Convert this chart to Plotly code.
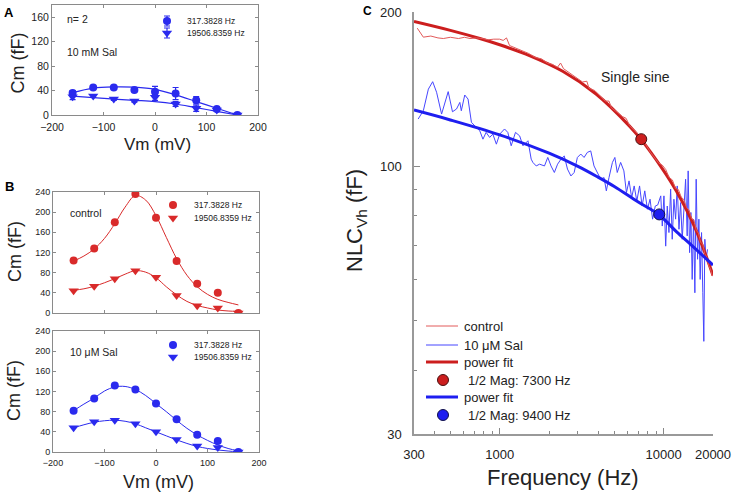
import plotly.graph_objects as go

W, H = 736, 493

# ---------------- Panel A data ----------------
vm = [-160, -120, -80, -40, 0, 40, 80, 120, 160]
a_low = [36, 45, 45, 41, 38, 35, 24, 10, 0]
a_low_err = [4, 2, 2, 2, 9, 10, 6, 2, 1]
a_high = [30, 31, 26, 23, 29, 18, 11, 8, 0]
a_high_err = [5, 2, 2, 2, 5, 4, 5, 2, 1]
a_fit_low = [36.5, 44, 46, 45.5, 42, 33, 22, 11, 0]
a_fit_high = [31, 28.5, 26, 24, 22, 18, 12, 6, 0]

# ---------------- Panel B data ----------------
vm_fit = [-160, -140, -120, -100, -80, -60, -40, -20, 0, 20, 40, 60, 80, 100, 120, 140, 160]
ctl_low = [104, 128, 180, 236, 189, 103, 58, 40, 0]
ctl_high = [44, 53, 68, 84, 71, 34.5, 14.6, 10, 0]
ctl_fit_low = [103, 113, 127, 148, 177, 210, 233, 224, 193, 150, 108, 75, 52, 37, 27, 21, 16]
ctl_fit_high = [45, 48, 53, 60, 68, 77, 84, 81, 70, 52, 36, 23, 15, 10, 6, 4, 3]
sal_low = [82, 106, 132, 124, 96, 65, 34, 22, 0]
sal_high = [48, 60, 63, 56, 40, 25, 12, 9, 0]
sal_fit_low = [82, 95, 107, 121, 129, 130, 124, 112, 96, 80, 63, 47, 34, 23, 14, 7, 2]
sal_fit_high = [48, 54, 59, 62, 63, 61, 56, 48, 40, 32, 24, 17, 11, 7, 4, 2, 0]

legend_freqs = ["317.3828 Hz", "19506.8359 Hz"]

# ---------------- Panel C data ----------------
ctl_freq = [314, 342, 380, 420, 453, 500, 560, 610, 659, 720, 780, 850, 920, 999, 1050,
            1100, 1148, 1200, 1280, 1388, 1500, 1650, 1800, 1950, 2100, 2250, 2350, 2450,
            2600, 2800, 3000, 3200, 3400, 3500, 3800, 4100, 4400, 4640, 4800, 5200, 5600,
            5900, 6200, 6600, 7000, 7300, 7800, 8300, 8800, 9300, 9800, 10300, 10800,
            11300, 11800, 12300, 12800, 13300, 13800, 14300, 14800, 15300, 15800, 16300,
            16800, 17300, 17800, 18300, 18800, 19300, 19800]
ctl_nlc = [186, 178.6, 179.5, 178, 177.5, 178.5, 177.5, 178.5, 177.5, 178, 177.5, 176.5,
           177, 177, 176, 178, 172, 171, 169, 167.5, 166, 163, 162, 159, 158, 156, 159,
           155, 153, 150, 148, 146, 146.5, 142, 140.5, 137, 134, 134, 130, 127.5, 125,
           124, 120, 117.5, 115.5, 113, 110, 106.5, 104, 101.5, 100.5, 98.5, 95, 94, 90.5,
           90, 87, 86, 83, 82, 79, 78.5, 75, 74, 71, 70.5, 67.5, 66.5, 64, 63, 61]

sal_freq = [318, 342, 367, 390, 412, 442, 485, 515, 545, 571, 583, 612, 641, 672, 720,
            756, 790, 826, 868, 908, 954, 1000, 1070, 1120, 1175, 1248, 1323, 1386, 1487,
            1556, 1593, 1670, 1750, 1875, 1964, 2055, 2154, 2254, 2365, 2475, 2590, 2718,
            2845, 2977, 3122, 3270, 3425, 3590, 3760, 3943, 4130, 4330, 4470, 4640, 4870,
            5040, 5210, 5465, 5720, 5930, 6150, 6380, 6610, 6860, 7130, 7390, 7670, 7960,
            8260, 8560, 8890, 9200, 9600, 9810, 10040, 10290, 10520, 10770, 11030, 11280,
            11550, 11830, 12100, 12400, 12690, 12980, 13290, 13610, 13920, 14110, 14390,
            14660, 14930, 15220, 15500, 15790, 16100, 16400, 16700, 17030, 17330, 17580,
            17830, 18150, 18510]
sal_nlc = [123.6, 128.3, 141.4, 146.2, 139.4, 126.4, 139.8, 127.7, 129.3, 133.2, 128.3,
           137.7, 135.2, 121.8, 119, 117.2, 112.9, 116.4, 113.8, 115.5, 110.4, 115.5,
           118.2, 116.4, 109.6, 116.4, 114.6, 109.6, 112.1, 103.2, 101.7, 100.1, 100.9,
           100.1, 104, 100.1, 97.2, 100.9, 103.2, 104.7, 98.7, 95.7, 97.2, 104, 105.6,
           104, 106.4, 107.1, 100.1, 97.2, 94.3, 95, 89.5, 95, 101.7, 104, 97.2, 101.7,
           97.9, 88.8, 93.6, 86.8, 91.5, 85.5, 91.5, 83.6, 89.5, 82.4, 86.2, 78.8, 83.6,
           84, 87.5, 76.4, 87.5, 69.8, 83.6, 74.2, 90.2, 72, 86.2, 78.8, 91.5, 75.3, 84.9,
           72, 83.6, 94.3, 73.1, 97.9, 67.8, 81.2, 60.1, 78.8, 56.6, 94.3, 65.8, 78.8,
           60.1, 74.2, 56.6, 45.5, 72, 65.8, 68.8]

ctl_fit_freq = [300, 500, 756, 1000, 1518, 2422, 3870, 6150, 7254, 9780, 12000, 15700, 20000]
ctl_fit_nlc = [191.6, 184.1, 177.5, 172.6, 164.4, 153.2, 138.3, 120.0, 112.9, 99.0, 89.2, 75.2, 61.2]
sal_fit_freq = [300, 500, 1000, 2000, 3000, 4000, 5000, 7000, 9400, 12000, 15000, 20000]
sal_fit_nlc = [128.7, 123.1, 115.1, 106.0, 99.9, 95.1, 91.3, 85.1, 80.3, 74.4, 69.8, 64.1]
half_freq = [7300, 9400]
half_nlc = [112.9, 80.5]

c_xticks = [300, 1000, 10000, 20000]
c_yticks = [30, 100, 200]

# ---------------- styles ----------------
FONT = "Liberation Sans, Arial, sans-serif"
BLUE = "#2a2aee"
RED = "#d92a2a"
C_RED = "#cc1e1e"
C_RED_THIN = "#e25a5a"
C_BLUE = "#1e1ef0"
C_BLUE_THIN = "#4646ff"
FRAME = "#8a8a8a"
TXT = "#222222"

fig = go.Figure()

def px_x(p):
    return p / W

def px_y(p):
    return 1 - p / H

# Panel A
for yy in (a_fit_low, a_fit_high):
    fig.add_trace(go.Scatter(x=vm, y=yy, xaxis="x", yaxis="y", mode="lines",
                             line=dict(color=BLUE, width=1.2, shape="spline"), showlegend=False))
fig.add_trace(go.Scatter(x=vm, y=a_low, xaxis="x", yaxis="y", mode="markers",
                         marker=dict(symbol="circle", size=8, color=BLUE),
                         error_y=dict(type="data", array=a_low_err, color=BLUE, thickness=1.2, width=3),
                         showlegend=False))
fig.add_trace(go.Scatter(x=vm, y=a_high, xaxis="x", yaxis="y", mode="markers",
                         marker=dict(symbol="triangle-down", size=9, color=BLUE),
                         error_y=dict(type="data", array=a_high_err, color=BLUE, thickness=1.2, width=3),
                         showlegend=False))

# Panel B top (control)
for yy in (ctl_fit_low, ctl_fit_high):
    fig.add_trace(go.Scatter(x=vm_fit, y=yy, xaxis="x2", yaxis="y2", mode="lines",
                             line=dict(color=RED, width=1, shape="spline"), showlegend=False))
fig.add_trace(go.Scatter(x=vm, y=ctl_low, xaxis="x2", yaxis="y2", mode="markers",
                         marker=dict(symbol="circle", size=8, color=RED), showlegend=False))
fig.add_trace(go.Scatter(x=vm, y=ctl_high, xaxis="x2", yaxis="y2", mode="markers",
                         marker=dict(symbol="triangle-down", size=9, color=RED), showlegend=False))

# Panel B bottom (Sal)
for yy in (sal_fit_low, sal_fit_high):
    fig.add_trace(go.Scatter(x=vm_fit, y=yy, xaxis="x3", yaxis="y3", mode="lines",
                             line=dict(color=BLUE, width=1, shape="spline"), showlegend=False))
fig.add_trace(go.Scatter(x=vm, y=sal_low, xaxis="x3", yaxis="y3", mode="markers",
                         marker=dict(symbol="circle", size=8, color=BLUE), showlegend=False))
fig.add_trace(go.Scatter(x=vm, y=sal_high, xaxis="x3", yaxis="y3", mode="markers",
                         marker=dict(symbol="triangle-down", size=9, color=BLUE), showlegend=False))

# Panel C
fig.add_trace(go.Scatter(x=sal_freq, y=sal_nlc, xaxis="x4", yaxis="y4", mode="lines",
                         line=dict(color=C_BLUE_THIN, width=1), showlegend=False))
fig.add_trace(go.Scatter(x=ctl_fit_freq, y=ctl_fit_nlc, xaxis="x4", yaxis="y4", mode="lines",
                         line=dict(color=C_RED, width=3, shape="spline"), showlegend=False))
fig.add_trace(go.Scatter(x=ctl_freq, y=ctl_nlc, xaxis="x4", yaxis="y4", mode="lines",
                         line=dict(color=C_RED_THIN, width=1), showlegend=False))
fig.add_trace(go.Scatter(x=sal_fit_freq, y=sal_fit_nlc, xaxis="x4", yaxis="y4", mode="lines",
                         line=dict(color=C_BLUE, width=3, shape="spline"), showlegend=False))
fig.add_trace(go.Scatter(x=half_freq, y=half_nlc, xaxis="x4", yaxis="y4", mode="markers",
                         marker=dict(size=11, color=[C_RED, C_BLUE],
                                     line=dict(color=["#4a1010", "#10104a"], width=1)),
                         showlegend=False))

# ---------------- legend keys on a pixel overlay ----------------
def key_marker(x, y, symbol, color, size, err=None, line=None):
    tr = go.Scatter(x=[x], y=[y], xaxis="x5", yaxis="y5", mode="markers",
                    marker=dict(symbol=symbol, size=size, color=color,
                                line=line or dict(width=0)),
                    showlegend=False, hoverinfo="skip")
    if err:
        tr.error_y = dict(type="data", array=[err], color=color, thickness=1.2, width=3)
    fig.add_trace(tr)

def key_line(x0, x1, y, color, width):
    fig.add_trace(go.Scatter(x=[x0, x1], y=[y, y], xaxis="x5", yaxis="y5", mode="lines",
                             line=dict(color=color, width=width), showlegend=False,
                             hoverinfo="skip"))

key_marker(167, 21, "circle", BLUE, 8, err=5)
key_marker(167, 33, "triangle-down", BLUE, 9, err=5)
key_marker(173, 205, "circle", RED, 8)
key_marker(173, 218, "triangle-down", RED, 9)
key_marker(173, 345, "circle", BLUE, 8)
key_marker(173, 357, "triangle-down", BLUE, 9)

key_line(426, 458, 326, C_RED_THIN, 1)
key_line(426, 458, 345, C_BLUE_THIN, 1)
key_line(426, 458, 362, C_RED, 3)
key_marker(443, 380, "circle", C_RED, 11, line=dict(color="#4a1010", width=1))
key_line(426, 458, 397, C_BLUE, 3)
key_marker(443, 415, "circle", C_BLUE, 11, line=dict(color="#10104a", width=1))

# ---------------- axes ----------------
def box_axis(domain, rng, dtick, showlabels=True, size=10.5):
    return dict(domain=domain, range=rng, dtick=dtick, tick0=0, ticks="inside", ticklen=3,
                tickcolor=FRAME, showline=True, linecolor=FRAME, linewidth=1, mirror="ticks",
                showgrid=False, zeroline=False, showticklabels=showlabels,
                tickfont=dict(family=FONT, size=size, color=TXT), fixedrange=True)

layout = dict(
    width=W, height=H, margin=dict(l=0, r=0, t=0, b=0, autoexpand=False),
    paper_bgcolor="white", plot_bgcolor="rgba(0,0,0,0)",
    showlegend=False,
    xaxis=dict(box_axis([px_x(52), px_x(258)], [-200, 200], 100), anchor="y", ticklabelstandoff=2),
    yaxis=dict(box_axis([px_y(115), px_y(5)], [0, 180], 40), anchor="x", tickvals=[0, 40, 80, 120, 160]),
    xaxis2=dict(box_axis([px_x(53), px_x(259)], [-200, 200], 100, showlabels=False), anchor="y2"),
    yaxis2=dict(box_axis([px_y(313), px_y(192)], [0, 240], 40, size=9), anchor="x2"),
    xaxis3=dict(box_axis([px_x(53), px_x(259)], [-200, 200], 100, size=9), anchor="y3", ticklabelstandoff=2),
    yaxis3=dict(box_axis([px_y(452), px_y(331)], [0, 240], 40, size=9), anchor="x3"),
    xaxis4=dict(domain=[px_x(414), px_x(713)], type="log", range=[2.4771, 4.3010],
                anchor="y4", tickvals=c_xticks, ticktext=[str(v) for v in c_xticks],
                ticks="inside", ticklen=6, tickcolor="#888", showline=True, linecolor="#999",
                linewidth=1.5, showgrid=False, zeroline=False, ticklabelstandoff=8,
                tickfont=dict(family=FONT, size=13, color=TXT), fixedrange=True,
                minor=dict(tickvals=[400, 500, 600, 700, 800, 900, 2000, 3000, 4000, 5000,
                                     6000, 7000, 8000, 9000],
                           ticks="inside", ticklen=3, tickcolor="#888", showgrid=False)),
    yaxis4=dict(domain=[px_y(434), px_y(12)], type="log", range=[1.4771, 2.3010],
                anchor="x4", tickvals=c_yticks, ticktext=[str(v) for v in c_yticks],
                ticks="inside", ticklen=6, tickcolor="#888", showline=True, linecolor="#999",
                linewidth=1.5, showgrid=False, zeroline=False, ticklabelstandoff=8,
                tickfont=dict(family=FONT, size=13, color=TXT), fixedrange=True,
                minor=dict(tickvals=[40, 50, 60, 70, 80, 90], ticks="inside", ticklen=3,
                           tickcolor="#888", showgrid=False)),
    xaxis5=dict(domain=[0, 1], range=[0, W], visible=False, anchor="y5", fixedrange=True),
    yaxis5=dict(domain=[0, 1], range=[H, 0], visible=False, anchor="x5", fixedrange=True),
)
fig.update_layout(**layout)

# ---------------- annotations ----------------
def note(x, y, text, size, xanchor="left", angle=0, bold=False, color=TXT):
    fig.add_annotation(x=x, y=y, xref="x5", yref="y5", text=("<b>%s</b>" % text) if bold else text,
                       showarrow=False, xanchor=xanchor, yanchor="middle", textangle=angle,
                       font=dict(family=FONT, size=size, color=color))

note(9, 12, "A", 13, xanchor="center", bold=True, color="black")
note(9, 186, "B", 13, xanchor="center", bold=True, color="black")
note(367, 11, "C", 12, xanchor="center", bold=True, color="black")

note(185, 21, legend_freqs[0], 8.5)
note(185, 33, legend_freqs[1], 8.5)
note(65, 19, "n= 2", 10.5)
note(65, 52, "10 mM Sal", 10.5)
note(192, 205, legend_freqs[0], 8.5)
note(192, 218, legend_freqs[1], 8.5)
note(68, 213, "control", 10.5)
note(192, 345, legend_freqs[0], 8.5)
note(192, 357, legend_freqs[1], 8.5)
note(68, 352, "10 μM Sal", 10.5)

note(17.5, 63, "Cm (fF)", 18, xanchor="center", angle=-90)
note(157, 144, "Vm (mV)", 17, xanchor="center")
note(15, 252, "Cm (fF)", 18, xanchor="center", angle=-90)
note(14, 391, "Cm (fF)", 18, xanchor="center", angle=-90)
note(158, 482, "Vm (mV)", 18, xanchor="center")

note(356, 221, "NLC<sub>Vh</sub> (fF)", 22, xanchor="center", angle=-90)
note(563, 477, "Frequency (Hz)", 22, xanchor="center")
note(635, 77, "Single sine", 14, xanchor="center")

note(462, 326, "control", 13)
note(462, 345, "10 μM Sal", 13)
note(462, 362, "power fit", 13)
note(466, 380, "1/2 Mag: 7300 Hz", 13)
note(462, 397, "power fit", 13)
note(466, 415, "1/2 Mag: 9400 Hz", 13)

fig.write_html("out.html", config={"displayModeBar": False},
               post_script="document.body.style.margin='0';document.body.style.overflow='hidden';")
